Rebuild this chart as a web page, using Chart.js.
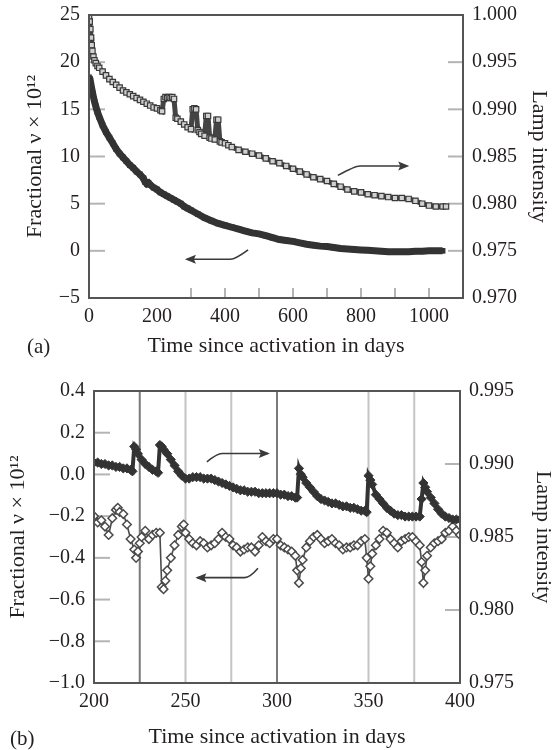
<!DOCTYPE html>
<html>
<head>
<meta charset="utf-8">
<script src="https://cdn.jsdelivr.net/npm/chart.js@4"></script>
<style>
  body { margin: 0; background: #fff; width: 552px; height: 750px; position: relative; overflow: hidden;
         font-family: 'Liberation Serif', serif; color: #231f20; }
  .panel { position: absolute; left: 0; width: 552px; }
  #wrapA { top: 0; height: 370px; }
  #wrapB { top: 370px; height: 380px; }
  .tag { position: absolute; font-size: 21px; line-height: 24px; }
</style>
</head>
<body>
<div class="panel" id="wrapA"><canvas id="chartA" width="552" height="370"></canvas></div>
<div class="panel" id="wrapB"><canvas id="chartB" width="552" height="380"></canvas></div>
<div class="tag" style="left:27px; top:334px">(a)</div>
<div class="tag" style="left:10px; top:726px">(b)</div>

<script>
// ---- panel (a): whole record, days 0..1050 ----
const daysLampA = [0, 2, 4, 6, 8, 10, 13, 16, 20, 25, 30, 40, 50, 60, 70, 80, 90, 100, 110, 120, 130, 140, 150,
  160, 170, 180, 190, 200, 210, 215, 220, 225, 230, 235, 240, 245, 250, 255, 260, 270, 280, 290, 300, 305, 310,
  315, 320, 325, 330, 340, 345, 350, 355, 360, 370, 375, 380, 385, 390, 400, 410, 420, 440, 460, 480, 500, 520,
  540, 560, 580, 600, 620, 640, 660, 680, 700, 720, 740, 760, 780, 800, 820, 840, 860, 880, 900, 920, 940, 960,
  980, 1000, 1020, 1040, 1050];
const lampA = [0.9998, 0.9993, 0.9985, 0.9976, 0.9968, 0.9962, 0.9956, 0.9952, 0.9949, 0.9946, 0.9944, 0.9940,
  0.9936, 0.9932, 0.9929, 0.9926, 0.9923, 0.9920, 0.9918, 0.9916, 0.9914, 0.9912, 0.9910, 0.9908, 0.9906,
  0.9904, 0.9902, 0.9901, 0.9899, 0.9898, 0.9911, 0.9913, 0.9912, 0.9913, 0.9912, 0.9913, 0.9911, 0.9891,
  0.9890, 0.9887, 0.9884, 0.9881, 0.9879, 0.9900, 0.9901, 0.9900, 0.9878, 0.9876, 0.9874, 0.9872, 0.9893,
  0.9893, 0.9870, 0.9869, 0.9868, 0.9889, 0.9889, 0.9866, 0.9865, 0.9864, 0.9862, 0.9860, 0.9857, 0.9855,
  0.9853, 0.9851, 0.9848, 0.9845, 0.9843, 0.9840, 0.9837, 0.9834, 0.9831, 0.9828, 0.9826, 0.9824, 0.9821,
  0.9818, 0.9815, 0.9813, 0.9812, 0.9810, 0.9809, 0.9808, 0.9807, 0.9806, 0.9806, 0.9805, 0.9803, 0.9800,
  0.9798, 0.9797, 0.9797, 0.9797];

const daysFreqA = [0, 3, 6, 10, 15, 20, 25, 30, 40, 50, 60, 70, 80, 90, 100, 110, 120, 130, 140, 150, 160, 165,
  170, 175, 180, 190, 200, 210, 220, 230, 240, 250, 260, 270, 280, 290, 300, 320, 340, 360, 380, 400, 420, 440,
  460, 480, 500, 520, 540, 560, 580, 600, 620, 640, 660, 680, 700, 720, 740, 760, 780, 800, 820, 840, 860, 880,
  900, 920, 940, 960, 980, 1000, 1020, 1040];
const freqA = [18.4, 18.2, 17.6, 16.8, 16.0, 15.3, 14.7, 14.2, 13.3, 12.6, 12.0, 11.4, 10.8, 10.3, 9.9, 9.5, 9.1,
  8.8, 8.4, 8.1, 7.7, 7.3, 7.1, 7.2, 7.0, 6.7, 6.5, 6.2, 6.0, 5.8, 5.6, 5.4, 5.2, 5.0, 4.7, 4.5, 4.3, 3.9, 3.5,
  3.2, 2.9, 2.7, 2.5, 2.3, 2.1, 1.9, 1.8, 1.6, 1.4, 1.2, 1.1, 1.0, 0.85, 0.7, 0.6, 0.5, 0.45, 0.35, 0.25, 0.2,
  0.15, 0.1, 0.05, 0.0, -0.05, -0.1, -0.1, -0.1, -0.1, -0.05, -0.05, 0.0, 0.0, 0.0];

// ---- panel (b): detail, days 200..400 ----
const daysLampB = [200, 202, 204, 206, 208, 210, 212, 214, 216, 218, 220, 221, 222, 223, 224, 226, 228, 230, 232,
  234, 235, 236, 237, 238, 240, 242, 244, 246, 248, 250, 252, 254, 256, 258, 260, 262, 264, 266, 268, 270, 272,
  274, 276, 278, 280, 282, 284, 286, 288, 290, 292, 294, 296, 298, 300, 302, 304, 306, 308, 310, 311, 312, 313,
  314, 316, 318, 320, 322, 324, 326, 328, 330, 332, 334, 336, 338, 340, 342, 344, 346, 348, 349, 350, 351, 352,
  354, 356, 358, 360, 362, 364, 366, 368, 370, 372, 374, 376, 378, 379, 380, 381, 382, 384, 386, 388, 390, 392,
  394, 396, 398, 400];
const lampB = [0.9901, 0.9901, 0.9900, 0.9900, 0.9899, 0.9899, 0.9898, 0.9898, 0.9897, 0.9897, 0.9896, 0.9895,
  0.9912, 0.9910, 0.9907, 0.9903, 0.9900, 0.9898, 0.9896, 0.9895, 0.9894, 0.9913, 0.9912, 0.9910, 0.9907,
  0.9903, 0.9899, 0.9895, 0.9892, 0.9890, 0.9890, 0.9891, 0.9891, 0.9891, 0.9890, 0.9890, 0.9890, 0.9889,
  0.9888, 0.9887, 0.9886, 0.9885, 0.9884, 0.9883, 0.9882, 0.9882, 0.9881, 0.9881, 0.9881, 0.9880, 0.9880,
  0.9880, 0.9880, 0.9880, 0.9880, 0.9879, 0.9879, 0.9878, 0.9878, 0.9877, 0.9877, 0.9897, 0.9893, 0.9891,
  0.9887, 0.9884, 0.9881, 0.9878, 0.9876, 0.9875, 0.9874, 0.9873, 0.9873, 0.9872, 0.9871, 0.9871, 0.9870,
  0.9870, 0.9869, 0.9868, 0.9868, 0.9867, 0.9892, 0.9889, 0.9886, 0.9879, 0.9876, 0.9873, 0.9870, 0.9868,
  0.9866, 0.9865, 0.9865, 0.9864, 0.9864, 0.9864, 0.9864, 0.9864, 0.9876, 0.9887, 0.9884, 0.9881, 0.9877,
  0.9873, 0.9869, 0.9866, 0.9864, 0.9863, 0.9862, 0.9862, 0.9862];

const daysFreqB = [200, 202, 204, 206, 208, 210, 212, 213, 214, 216, 218, 220, 222, 223, 224, 225, 226, 228, 230,
  232, 234, 236, 237, 238, 239, 240, 242, 244, 246, 248, 249, 250, 252, 254, 256, 258, 260, 262, 264, 266, 268,
  270, 272, 274, 276, 278, 280, 282, 284, 286, 288, 290, 292, 294, 296, 298, 300, 302, 304, 306, 308, 310, 311,
  312, 313, 314, 316, 318, 320, 322, 324, 326, 328, 330, 332, 334, 336, 338, 340, 342, 344, 346, 348, 349, 350,
  351, 352, 354, 356, 358, 360, 362, 364, 366, 368, 370, 372, 374, 376, 378, 379, 380, 381, 382, 384, 386, 388,
  390, 392, 394, 396, 398, 400];
const freqB = [-0.20, -0.23, -0.22, -0.25, -0.29, -0.21, -0.17, -0.16, -0.18, -0.19, -0.24, -0.31, -0.36, -0.40,
  -0.37, -0.33, -0.30, -0.27, -0.31, -0.29, -0.28, -0.28, -0.54, -0.55, -0.51, -0.46, -0.40, -0.34, -0.29,
  -0.25, -0.24, -0.28, -0.31, -0.33, -0.34, -0.32, -0.33, -0.35, -0.34, -0.33, -0.31, -0.28, -0.30, -0.31,
  -0.34, -0.35, -0.37, -0.36, -0.35, -0.35, -0.37, -0.34, -0.30, -0.32, -0.33, -0.31, -0.31, -0.34, -0.35,
  -0.36, -0.37, -0.39, -0.46, -0.52, -0.45, -0.41, -0.35, -0.32, -0.30, -0.29, -0.31, -0.33, -0.32, -0.31,
  -0.33, -0.34, -0.36, -0.35, -0.35, -0.34, -0.34, -0.32, -0.31, -0.40, -0.50, -0.44, -0.38, -0.34, -0.31,
  -0.27, -0.28, -0.31, -0.33, -0.35, -0.32, -0.31, -0.30, -0.30, -0.32, -0.34, -0.42, -0.52, -0.46, -0.39,
  -0.35, -0.33, -0.32, -0.31, -0.28, -0.27, -0.25, -0.27, -0.29];

// maintenance days marked with vertical lines in (b); the darker ones are the first two
const eventDaysB = [225, 250, 275, 300, 350, 375];
const darkEventDaysB = [225, 300];

// arrow paths in data units (day, left-axis value), last point is the tip
const arrowsA = [[[732, 8.0], [782, 9.0], [936, 9.0]], [[468, 0.1], [430, -0.9], [288, -0.9]]];
const arrowsB = [[[261.7, 0.06], [267.2, 0.10], [295, 0.10]], [[289.6, -0.45], [285.2, -0.495], [256.5, -0.495]]];

const titleY = 'Fractional \u03bd \u00d7 10\u00b9\u00b2';
const titleY1 = 'Lamp intensity';
const titleX = 'Time since activation in days';

Chart.defaults.font.family = "'Liberation Serif', 'DejaVu Serif', serif";
Chart.defaults.font.size = 20;
Chart.defaults.color = '#231f20';

const titleFont = { size: 22 };

function pairs(xs, ys) {
  return xs.map((x, i) => ({ x: x, y: ys[i] }));
}

function minus(txt) {
  return String(txt).replace('-', '\u2212');
}

// frame, inner tick marks, event lines and arrows (settings kept in a closure)
function makeFrame(cfg) {
  return {
    id: 'frame',
    beforeDatasetsDraw(chart) {
      const ctx = chart.ctx, a = chart.chartArea;
      ctx.save();
      ctx.lineWidth = 2;
      (cfg.lines || []).forEach(day => {
        const x = chart.scales.x.getPixelForValue(day);
        ctx.strokeStyle = (cfg.darkLines || []).includes(day) ? '#7a7a7a' : '#c4c4c4';
        ctx.beginPath();
        ctx.moveTo(x, a.top);
        ctx.lineTo(x, a.bottom);
        ctx.stroke();
      });
      ctx.strokeStyle = '#b4b4b4';
      cfg.ticks.forEach(t => {
        const s = chart.scales[t.axis];
        const vals = t.values || s.ticks.map(k => k.value).filter(v => v > s.min + 1e-9 && v < s.max - 1e-9);
        vals.forEach(v => {
          const p = s.getPixelForValue(v);
          ctx.beginPath();
          if (t.axis === 'x') {
            ctx.moveTo(p, a.bottom); ctx.lineTo(p, a.bottom - t.len);
          } else if (s.position === 'left') {
            ctx.moveTo(a.left, p); ctx.lineTo(a.left + t.len, p);
          } else {
            ctx.moveTo(a.right, p); ctx.lineTo(a.right - t.len, p);
          }
          ctx.stroke();
        });
      });
      ctx.restore();
    },
    afterDatasetsDraw(chart) {
      const ctx = chart.ctx, a = chart.chartArea;
      const sx = chart.scales.x, sy = chart.scales.y;
      ctx.save();
      ctx.strokeStyle = '#3a3a3a';
      ctx.fillStyle = '#3a3a3a';
      ctx.lineWidth = 1.6;
      cfg.arrows.forEach(path => {
        const pts = path.map(p => [sx.getPixelForValue(p[0]), sy.getPixelForValue(p[1])]);
        ctx.beginPath();
        ctx.moveTo(pts[0][0], pts[0][1]);
        ctx.quadraticCurveTo(pts[1][0], pts[1][1], pts[1][0] + (pts[2][0] - pts[1][0]) * 0.1, pts[2][1]);
        ctx.lineTo(pts[2][0], pts[2][1]);
        ctx.stroke();
        const tip = pts[2], dir = Math.sign(pts[2][0] - pts[1][0]);
        ctx.beginPath();
        ctx.moveTo(tip[0] + dir * 2, tip[1]);
        ctx.lineTo(tip[0] - dir * 9, tip[1] - 4.5);
        ctx.lineTo(tip[0] - dir * 7, tip[1]);
        ctx.lineTo(tip[0] - dir * 9, tip[1] + 4.5);
        ctx.closePath();
        ctx.fill();
      });
      ctx.strokeStyle = '#555';
      ctx.lineWidth = 2;
      ctx.strokeRect(a.left, a.top, a.right - a.left, a.bottom - a.top);
      ctx.restore();
    }
  };
}

function axisY(pos, min, max, step, fmt, width, titlePad) {
  return {
    type: 'linear', position: pos, min: min, max: max,
    grid: { display: false, drawTicks: false },
    border: { display: false },
    ticks: { stepSize: step, padding: 9, callback: fmt },
    title: { display: true, text: pos === 'left' ? titleY : titleY1, font: titleFont,
             padding: { top: titlePad, bottom: 0 } },
    afterFit: s => { s.width = width; s.paddingTop = 0; s.paddingBottom = 0; }
  };
}

function axisX(min, max, step, every, height, titleBottom) {
  return {
    type: 'linear', min: min, max: max,
    grid: { display: false, drawTicks: false },
    border: { display: false },
    ticks: { stepSize: step, padding: 7, autoSkip: false, maxRotation: 0,
             callback: v => (v % every === 0 && v <= 1000) ? v : '' },
    title: { display: true, text: titleX, font: titleFont, padding: { top: 0, bottom: titleBottom } },
    afterFit: s => { s.height = height; }
  };
}

new Chart(document.getElementById('chartA'), {
  type: 'scatter',
  data: {
    datasets: [
      {
        label: 'Lamp intensity', yAxisID: 'y1', data: pairs(daysLampA, lampA), showLine: true,
        borderColor: '#444', borderWidth: 5, pointStyle: 'rect', pointRadius: 3.8, pointBorderWidth: 1.2,
        pointBorderColor: '#3a3a3a', pointBackgroundColor: '#d0d0d0'
      },
      {
        label: 'Fractional', yAxisID: 'y', data: pairs(daysFreqA, freqA), showLine: true,
        borderColor: '#333', borderWidth: 7, pointStyle: 'rect', pointRadius: 4,
        pointBorderWidth: 0, pointBackgroundColor: '#333'
      }
    ]
  },
  options: {
    responsive: false, animation: false,
    layout: { padding: { top: 15, left: 0, right: 0, bottom: 0 } },
    plugins: { legend: { display: false }, tooltip: { enabled: false } },
    scales: {
      x: axisX(0, 1100, 100, 200, 72, 11),
      y: axisY('left', -5, 25, 5, v => minus(v), 89, 22),
      y1: axisY('right', 0.97, 1.0, 0.005, v => v.toFixed(3), 89, 0)
    }
  },
  plugins: [makeFrame({
    arrows: arrowsA,
    ticks: [
      { axis: 'y', len: 16 },
      { axis: 'y1', len: 15 },
      { axis: 'x', len: 10, values: [300, 400, 500, 600, 700, 800, 900, 1000] }
    ]
  })]
});

new Chart(document.getElementById('chartB'), {
  type: 'scatter',
  data: {
    datasets: [
      {
        label: 'Lamp intensity', yAxisID: 'y1', data: pairs(daysLampB, lampB), showLine: true,
        borderColor: '#333', borderWidth: 4, pointStyle: 'rectRot', pointRadius: 4.6,
        pointBorderWidth: 1, pointBorderColor: '#333', pointBackgroundColor: '#333'
      },
      {
        label: 'Fractional', yAxisID: 'y', data: pairs(daysFreqB, freqB), showLine: true,
        borderColor: '#4a4a4a', borderWidth: 1.6, pointStyle: 'rectRot', pointRadius: 4.3,
        pointBorderWidth: 1.5, pointBorderColor: '#4a4a4a', pointBackgroundColor: '#fff'
      }
    ]
  },
  options: {
    responsive: false, animation: false,
    layout: { padding: { top: 21, left: 0, right: 0, bottom: 0 } },
    plugins: { legend: { display: false }, tooltip: { enabled: false } },
    scales: {
      x: axisX(200, 400, 25, 50, 67, 0),
      y: axisY('left', -1.0, 0.4, 0.2, v => Math.abs(v) < 1e-9 ? '0.0' : minus(v.toFixed(1)), 94, 5),
      y1: axisY('right', 0.975, 0.995, 0.005, v => v.toFixed(3), 92, -4)
    }
  },
  plugins: [makeFrame({
    arrows: arrowsB,
    lines: eventDaysB,
    darkLines: darkEventDaysB,
    ticks: [
      { axis: 'y', len: 16 },
      { axis: 'y1', len: 15 }
    ]
  })]
});
</script>
</body>
</html>
